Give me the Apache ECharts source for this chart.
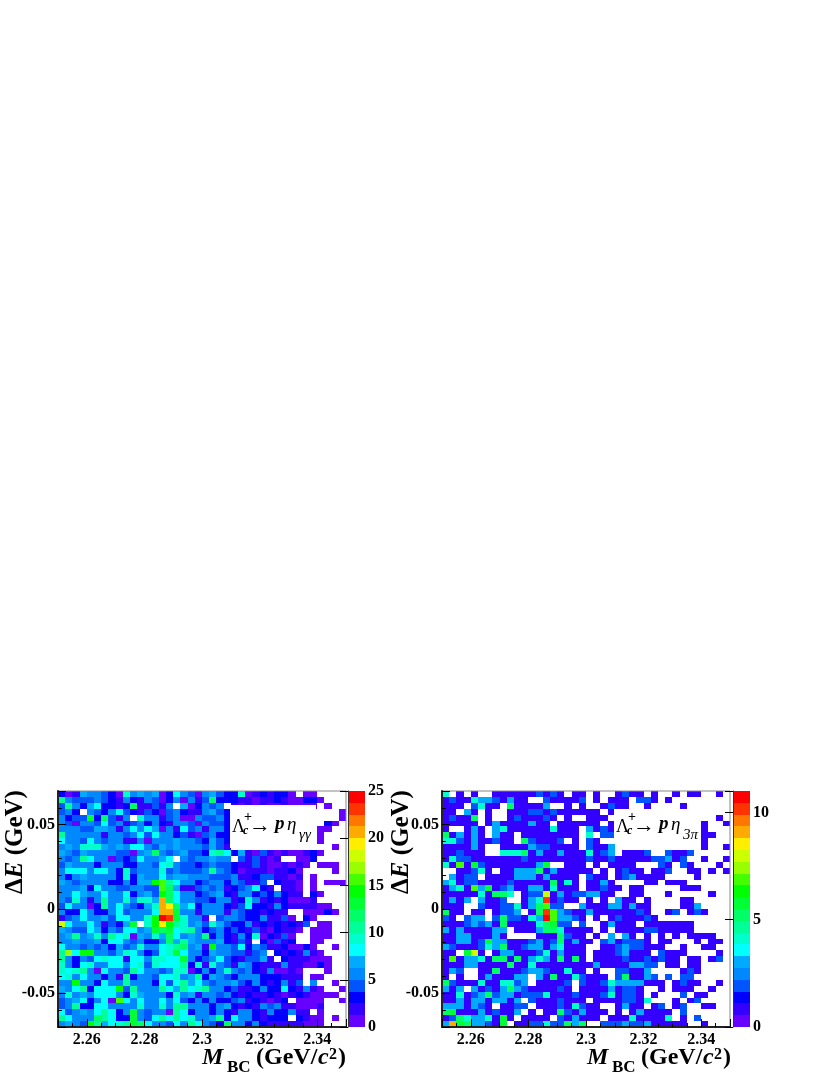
<!DOCTYPE html>
<html>
<head>
<meta charset="utf-8">
<style>
  html, body { margin: 0; padding: 0; background: #fff; }
  #main { width: 830px; height: 1075px; }
</style>
<script src="https://cdn.jsdelivr.net/npm/echarts@6/dist/echarts.min.js"></script>
</head>
<body>
<div id="main"></div>
<script>
// entries per bin, row 0 is the top of the plot (cells hidden behind the label box are left at 0)
const countsGammaGamma = [
  [3,1,2,7,5,5,4,3,1,9,5,7,5,7,1,3,8,5,4,1,5,7,4,3,3,9,1,2,3,2,3,3,1,0,1,1,0,0,0,0],
  [10,5,4,4,4,5,4,3,2,5,3,2,5,4,1,3,5,1,5,2,4,12,3,3,3,2,2,1,2,2,3,2,1,1,3,3,1,0,0,0],
  [4,10,5,3,7,8,3,3,2,3,12,2,2,4,2,5,0,7,1,3,5,4,5,0,2,1,2,1,2,1,1,2,1,1,1,1,0,1,0,0],
  [4,5,3,0,5,4,3,5,8,4,3,2,4,3,1,4,5,3,2,2,5,7,4,3,0,0,0,0,0,0,0,0,0,0,0,0,0,0,0,1],
  [5,3,4,4,13,3,12,4,2,5,0,9,5,5,2,4,5,1,1,5,4,4,5,3,0,0,0,0,0,0,0,0,0,0,0,0,0,0,0,1],
  [5,4,1,5,5,4,8,4,5,2,4,5,3,5,3,2,5,5,4,1,5,4,4,3,0,0,0,0,0,0,0,0,0,0,0,0,0,3,1,0],
  [5,5,5,4,4,7,7,5,2,5,8,5,8,7,1,5,2,8,4,5,2,5,5,3,0,0,0,0,0,0,0,0,0,0,0,0,1,1,0,0],
  [10,5,5,5,5,5,2,5,5,4,5,8,4,8,5,5,3,4,2,1,4,5,3,3,0,0,0,0,0,0,0,0,0,0,0,0,1,0,0,0],
  [8,5,5,4,8,5,4,5,5,2,2,5,1,5,5,5,7,5,5,4,3,7,4,3,0,0,0,0,0,0,0,0,0,0,0,0,1,0,0,0],
  [5,7,5,9,9,9,7,5,7,5,8,8,5,4,7,5,7,5,5,5,4,7,4,2,0,0,0,0,0,0,0,0,0,0,0,0,0,0,1,0],
  [7,5,4,7,5,5,5,5,4,4,1,5,7,12,5,4,5,7,4,4,3,9,10,8,3,7,2,1,4,2,1,2,1,1,2,3,1,0,0,0],
  [5,4,5,10,8,5,5,1,4,3,4,8,5,5,7,8,0,5,4,5,5,7,5,5,0,4,2,4,2,1,2,0,0,1,1,3,0,0,0,0],
  [4,7,5,5,5,3,5,5,5,3,3,5,5,4,8,9,5,4,4,3,4,5,4,4,3,2,2,4,2,1,1,2,1,2,1,0,1,1,1,0],
  [5,8,8,8,5,8,8,5,3,9,4,5,5,5,9,4,5,4,4,4,5,11,5,4,3,1,2,2,2,1,2,2,3,1,0,0,0,0,1,0],
  [5,3,5,7,5,5,5,5,3,9,3,7,5,5,8,5,7,7,5,5,5,4,4,4,5,2,2,3,4,4,2,2,1,2,0,1,0,0,0,0],
  [7,5,4,5,5,5,5,3,3,5,3,7,7,14,15,10,8,5,5,3,4,5,5,3,5,4,2,2,4,0,3,2,2,1,0,1,0,1,1,1],
  [5,5,5,7,3,8,5,5,4,4,5,5,4,4,15,12,7,2,2,4,5,4,5,2,3,4,5,8,3,2,0,2,2,1,0,1,0,0,0,0],
  [5,5,8,7,5,5,8,5,5,8,3,5,7,4,14,12,8,5,5,3,4,5,7,3,2,5,5,3,4,3,5,3,2,2,0,3,1,0,0,0],
  [5,4,9,5,2,5,11,5,5,9,5,9,9,7,21,12,8,5,5,4,4,3,5,5,2,3,9,5,2,3,2,3,1,1,1,2,0,0,0,0],
  [4,8,5,5,1,3,11,5,8,5,4,3,7,9,21,19,12,7,8,3,5,5,5,3,2,4,8,3,3,2,5,3,2,2,2,2,1,1,0,0],
  [5,3,3,8,5,3,3,5,8,4,5,5,5,8,21,21,13,5,5,2,5,5,5,2,5,4,3,3,2,3,2,2,0,0,1,1,1,3,1,0],
  [2,4,5,8,5,5,7,4,8,8,5,5,9,14,25,23,13,9,5,5,2,0,4,5,5,4,3,3,5,2,2,4,1,0,3,1,0,0,0,0],
  [18,8,5,5,8,5,2,4,3,7,13,0,9,14,19,14,10,9,5,7,4,9,7,4,3,3,5,2,3,2,3,2,3,2,4,0,1,1,0,0],
  [7,5,4,4,8,7,3,5,4,8,8,5,7,13,12,13,8,9,10,5,3,4,5,3,4,3,2,4,2,1,3,2,2,1,0,1,1,1,0,0],
  [5,7,10,5,7,9,5,10,8,9,1,7,5,9,7,12,8,5,7,5,10,3,5,3,2,5,3,9,1,3,2,4,1,0,0,1,1,1,0,0],
  [5,5,7,5,5,7,3,8,8,5,4,5,3,3,5,12,7,10,7,5,5,5,7,3,2,4,2,0,3,1,4,2,3,0,0,1,1,0,0,0],
  [8,5,5,4,5,4,5,3,7,4,5,9,5,5,8,9,10,12,5,7,2,14,5,5,4,8,3,5,4,2,2,3,1,1,3,1,0,0,1,0],
  [11,17,8,14,14,5,5,4,7,9,8,5,3,4,8,9,13,8,5,5,3,7,5,5,4,4,2,4,5,0,3,2,3,2,5,2,1,0,0,0],
  [10,5,3,5,4,8,9,8,8,2,8,8,5,9,9,8,8,13,5,3,4,5,8,4,3,2,4,4,7,2,0,3,2,2,2,1,1,1,0,0],
  [9,5,3,8,9,5,5,8,8,5,8,9,4,9,8,8,8,10,3,9,2,9,5,4,2,7,5,3,2,2,2,5,2,2,1,1,3,1,0,0],
  [9,8,9,10,5,1,8,5,5,4,10,8,5,5,4,5,9,9,1,3,5,3,5,9,5,4,5,3,2,5,1,1,2,1,0,0,0,1,0,0],
  [8,9,5,8,5,5,3,5,2,11,3,5,5,4,8,8,9,5,7,10,3,7,5,4,3,5,5,5,3,3,3,2,2,2,0,1,1,0,0,0],
  [5,5,14,5,5,3,8,5,5,10,5,5,5,3,8,4,8,10,7,8,5,4,5,5,7,4,3,5,3,2,3,5,2,4,0,5,0,0,1,0],
  [7,5,8,10,3,8,8,8,14,4,11,5,5,5,11,8,7,11,8,9,11,5,5,3,4,2,2,3,5,3,3,8,3,2,5,2,1,0,0,1],
  [5,9,5,7,5,8,8,8,5,3,9,7,5,5,5,3,9,5,7,2,5,5,4,5,3,2,3,2,2,3,2,1,2,3,2,1,1,1,1,0],
  [4,5,7,8,3,5,8,1,15,8,5,8,5,5,8,5,8,4,3,5,3,5,3,3,4,5,2,3,2,1,2,3,0,1,1,1,1,0,0,1],
  [4,5,11,3,3,8,8,5,5,5,5,9,5,5,9,5,10,11,5,5,5,3,5,7,3,2,3,2,5,4,5,2,2,1,1,1,2,0,0,0],
  [8,4,5,7,5,8,10,8,3,5,13,5,4,5,5,1,10,8,3,5,5,3,5,3,2,5,5,3,2,5,3,3,5,2,2,0,1,0,0,0],
  [11,8,5,5,5,12,10,8,3,3,13,5,4,8,10,8,11,8,9,5,5,7,10,3,8,5,5,3,2,3,3,3,0,3,2,1,1,0,1,0],
  [5,7,5,4,14,10,7,8,9,10,13,12,8,5,5,4,8,5,10,8,5,4,3,12,5,5,3,5,3,2,2,2,2,2,1,1,1,0,0,0]
];
const counts3Pi = [
  [4,0,1,0,1,0,0,1,1,1,1,1,1,2,1,2,1,0,1,1,0,1,0,0,1,2,1,1,0,1,0,0,1,0,1,1,0,0,1,0],
  [1,2,1,1,4,3,3,2,1,3,1,1,0,0,2,1,1,1,1,2,0,1,0,1,1,1,0,2,2,1,0,1,0,0,0,0,0,0,0,0],
  [1,1,1,0,2,4,1,1,0,5,1,1,1,1,3,0,0,1,0,1,0,0,1,2,1,1,0,0,1,0,0,0,0,1,0,0,0,0,0,0],
  [1,1,0,3,1,0,1,0,0,1,1,1,2,2,1,2,1,1,1,1,1,1,0,1,0,0,0,0,0,0,0,0,0,0,0,0,0,0,0,0],
  [1,2,1,1,5,0,1,0,0,1,2,1,1,1,2,1,0,1,0,0,1,1,1,0,0,0,0,0,0,0,0,0,0,0,0,0,0,0,1,0],
  [1,1,1,1,1,0,1,3,1,1,1,1,3,1,1,0,1,1,1,1,1,1,0,1,0,0,0,0,0,0,0,0,0,0,0,0,1,0,0,1],
  [1,0,0,1,3,1,0,3,4,1,1,1,1,1,1,4,1,1,1,0,3,1,2,1,0,0,0,0,0,0,0,0,0,0,0,0,1,0,0,0],
  [5,1,3,1,3,1,0,3,1,1,0,1,1,1,1,1,1,1,1,0,4,0,2,2,0,0,0,0,0,0,0,0,0,0,0,0,1,1,0,0],
  [4,4,2,1,3,1,1,2,1,1,0,5,2,1,1,1,2,0,1,0,2,1,0,0,0,0,0,0,0,0,0,0,0,0,0,0,1,0,0,0],
  [1,1,1,1,3,1,0,0,1,1,1,1,3,2,2,1,1,1,1,0,2,1,1,3,0,0,0,0,0,0,0,0,0,0,0,0,1,0,0,1],
  [1,1,2,1,1,1,0,0,4,4,4,5,1,3,1,1,3,1,1,1,4,1,2,3,0,1,1,1,2,0,0,2,1,1,2,0,0,0,0,0],
  [1,4,2,2,1,1,1,1,1,1,1,2,1,1,1,1,1,1,1,1,2,1,1,2,1,1,1,1,1,2,2,3,1,2,0,0,1,0,0,1],
  [4,1,7,1,6,2,1,1,1,1,1,1,1,3,6,0,0,1,1,1,0,1,0,1,1,1,1,0,0,0,2,1,0,2,1,0,0,0,1,0],
  [0,0,1,1,2,4,1,0,1,1,3,3,3,5,1,3,1,1,1,1,1,0,1,0,1,2,1,1,0,1,1,2,0,0,1,1,0,1,0,1],
  [0,3,1,2,2,0,1,1,1,1,3,3,3,1,3,1,1,1,1,0,2,1,1,0,1,2,3,1,1,1,1,0,0,0,0,1,0,0,0,0],
  [3,4,1,2,2,1,1,1,1,2,1,1,1,1,1,5,1,4,1,0,1,1,3,1,0,0,0,0,1,1,0,1,1,1,0,0,0,0,0,0],
  [1,3,4,1,7,3,6,1,2,3,1,1,3,3,1,4,1,1,1,0,1,1,2,1,1,0,1,1,0,0,0,0,0,1,1,1,0,0,0,0],
  [1,1,1,1,1,4,1,5,5,4,0,1,2,2,8,1,3,1,2,2,3,3,1,1,0,0,1,1,0,0,0,1,0,0,0,0,0,1,0,0],
  [1,3,1,3,0,3,1,1,2,0,0,1,3,4,10,1,2,1,1,0,1,0,1,0,3,1,1,0,1,0,0,0,0,1,1,0,0,0,0,0],
  [1,1,1,0,0,2,1,1,2,2,4,1,3,5,7,2,2,0,0,3,1,1,1,3,3,1,3,1,1,0,0,0,0,1,1,3,0,0,0,0],
  [5,1,1,0,1,1,0,1,2,2,3,0,1,5,10,7,3,2,1,1,3,1,1,1,1,1,1,2,1,0,0,1,2,0,1,2,1,0,0,0],
  [2,1,0,2,3,3,0,2,5,2,2,1,4,3,11,7,3,3,2,1,0,1,0,1,2,1,1,1,2,1,0,0,0,0,0,0,0,0,0,0],
  [1,1,1,2,3,2,3,1,5,1,1,1,1,4,5,6,2,2,0,2,0,0,1,3,1,1,1,0,1,1,1,1,1,1,1,0,0,0,0,0],
  [3,1,3,1,1,1,1,3,3,0,1,1,1,3,5,5,4,1,1,1,1,0,1,0,1,1,1,1,2,2,1,1,1,1,1,0,0,0,0,0],
  [1,1,3,3,1,1,1,3,1,0,0,0,0,1,1,1,5,2,1,1,0,1,0,3,0,3,1,0,1,0,1,0,1,0,1,1,1,1,0,0],
  [1,1,3,3,1,2,6,3,3,1,1,1,2,3,1,2,5,1,3,1,1,0,2,3,1,2,2,2,1,0,1,1,0,0,0,1,0,1,1,0],
  [3,2,1,1,1,2,4,3,5,1,1,2,3,3,1,3,4,1,1,1,0,0,1,1,2,3,2,2,1,1,1,0,0,1,0,0,1,1,0,0],
  [1,1,0,6,8,1,0,1,3,3,1,1,1,2,4,1,3,1,1,1,0,1,1,1,2,3,1,1,1,0,2,1,1,1,0,0,0,0,1,0],
  [1,7,1,3,3,4,1,5,5,1,5,1,3,4,3,1,5,1,5,1,0,1,1,1,1,2,1,1,2,1,2,1,1,0,1,1,0,1,2,0],
  [1,1,1,3,3,1,1,1,1,5,1,1,4,1,1,1,1,1,1,1,1,3,1,1,1,1,3,3,2,2,0,1,1,0,1,1,0,0,0,0],
  [1,3,2,0,0,1,1,5,1,1,1,2,3,3,2,1,1,4,1,1,0,1,0,0,2,2,1,1,3,0,0,0,0,1,2,1,0,0,0,0],
  [1,0,1,0,0,1,3,1,1,1,3,3,0,3,1,5,1,1,4,2,1,1,1,0,2,5,1,1,3,2,0,2,0,2,2,0,0,0,0,0],
  [5,2,1,1,1,4,1,1,4,4,2,3,0,1,1,1,1,2,0,2,1,1,2,4,3,3,3,3,1,1,1,0,1,2,1,1,0,0,1,0],
  [3,1,3,0,3,1,2,1,3,5,3,2,1,1,1,1,2,1,0,1,1,1,1,3,1,2,2,1,0,0,1,0,1,1,1,0,0,1,0,0],
  [1,1,4,1,2,3,5,2,3,3,1,2,2,2,4,1,1,1,2,1,1,1,2,4,1,2,2,1,0,1,0,0,0,2,0,1,1,0,0,0],
  [1,1,3,1,3,3,1,3,3,1,3,0,2,1,1,1,2,1,1,1,0,1,1,1,1,2,2,1,4,0,0,0,1,0,1,2,0,0,0,0],
  [3,3,3,1,3,2,1,0,1,1,2,2,0,1,1,1,2,1,4,2,1,1,0,0,1,3,1,1,0,1,2,0,1,2,0,0,1,1,0,0],
  [5,6,1,1,1,3,1,2,1,1,3,0,1,0,1,1,5,2,1,3,1,1,1,0,1,0,1,3,1,1,1,1,0,2,0,0,0,0,0,0],
  [1,2,5,4,3,3,4,1,6,1,0,1,1,1,1,0,2,1,3,1,1,1,0,1,1,1,4,1,1,1,1,4,0,1,0,2,0,0,0,0],
  [3,9,6,5,3,3,2,1,6,0,1,1,2,2,4,2,2,5,3,5,0,0,2,2,2,3,2,2,3,1,1,1,1,1,0,0,1,0,0,0]
];

const massRange = [2.25, 2.35];
const deltaERange = [-0.07, 0.07];
const binCount = 40;
const zMaxLeft = 25;
const zMaxRight = 11;

// the 20 colour steps, bottom to top of the z scale
const palette = [
  '#6600ff', '#3300ff', '#0000ff', '#0055ff', '#0088ff',
  '#00aaff', '#00ffff', '#00ffcc', '#00ff99', '#00ff66',
  '#00ff33', '#00ff00', '#44ff00', '#99ff00', '#ccff00',
  '#ffee00', '#ffaa00', '#ff7700', '#ff3300', '#ff0000'
];

const serif = '"Liberation Serif", serif';

function colorFor(v, zMax) {
  return palette[Math.min(19, Math.floor(v / zMax * 20))];
}

function buildCells(counts) {
  let out = [];
  let dx = (massRange[1] - massRange[0]) / binCount;
  let dy = (deltaERange[1] - deltaERange[0]) / binCount;
  for (let r = 0; r < counts.length; r++) {
    for (let c = 0; c < counts[r].length; c++) {
      if (counts[r][c] === 0) continue;
      out.push([
        massRange[0] + c * dx,
        deltaERange[1] - r * dy,
        massRange[0] + (c + 1) * dx,
        deltaERange[1] - (r + 1) * dy,
        counts[r][c]
      ]);
    }
  }
  return out;
}

function cellRenderer(colorOf) {
  return function (params, api) {
    let a = api.coord([api.value(0), api.value(1)]);
    let b = api.coord([api.value(2), api.value(3)]);
    let x = Math.round(a[0]), y = Math.round(a[1]);
    return {
      type: 'rect',
      shape: { x: x, y: y, width: Math.round(b[0]) - x, height: Math.round(b[1]) - y },
      style: { fill: colorOf(api.value(4)) }
    };
  };
}

function trimLabel(range) {
  return function (v) {
    if (Math.abs(v - range[0]) < 1e-6 || Math.abs(v - range[1]) < 1e-6) return '';
    return String(+v.toFixed(2));
  };
}

const labelFont = { fontFamily: serif, fontWeight: 'bold', fontSize: 16, color: '#000' };

function panelAxes(gridIndex) {
  let x = {
    type: 'value', gridIndex: gridIndex, min: massRange[0], max: massRange[1], splitNumber: 5, z: 6,
    axisLine: { show: true, onZero: false, lineStyle: { color: '#222', width: 2 } },
    axisTick: { show: true, inside: true, length: 8, lineStyle: { color: '#000', width: 1 } },
    minorTick: { show: true, splitNumber: 4, length: 4, lineStyle: { color: '#000', width: 1 } },
    axisLabel: Object.assign({ margin: 5, formatter: trimLabel(massRange), hideOverlap: false }, labelFont),
    splitLine: { show: false }
  };
  let y = {
    type: 'value', gridIndex: gridIndex, min: deltaERange[0], max: deltaERange[1], splitNumber: 3, z: 6,
    axisLine: { show: true, onZero: false, lineStyle: { color: '#222', width: 2 } },
    axisTick: { show: true, inside: true, length: 8, lineStyle: { color: '#000', width: 1 } },
    minorTick: { show: true, splitNumber: 5, length: 4, lineStyle: { color: '#000', width: 1 } },
    axisLabel: Object.assign({ margin: 3, formatter: trimLabel(deltaERange), hideOverlap: false }, labelFont),
    splitLine: { show: false }
  };
  return [x, y];
}

function barAxes(gridIndex, zMax) {
  let x = { type: 'value', gridIndex: gridIndex, min: 0, max: 1, show: false };
  let y = {
    type: 'value', gridIndex: gridIndex, min: 0, max: zMax, interval: 5, position: 'right', z: 6,
    axisLine: { show: true, lineStyle: { color: '#333', width: 1 } },
    axisTick: { show: true, inside: true, length: 8, lineStyle: { color: '#000', width: 1 } },
    axisLabel: { margin: 3, fontFamily: serif, fontWeight: 'bold', fontSize: 16, color: '#000',
      formatter: function (v) { return v === zMax && zMax % 5 ? '' : String(v); } },
    splitLine: { show: false }
  };
  return [x, y];
}

function barCells(zMax) {
  let out = [];
  for (let i = 0; i < 20; i++) {
    out.push([0, zMax * i / 20, 1, zMax * (i + 1) / 20, i]);
  }
  return out;
}

function text(x, y, str, size, opts) {
  return {
    type: 'text', x: x, y: y, z: 20,
    style: {
      text: str, fill: '#000', font: (opts && opts.style || '') + ' ' + size + 'px ' + serif,
      align: 'left', verticalAlign: 'bottom'
    }
  };
}

// decay label with its white box, dx shifts it into the second panel
function decayLabel(dx, boxTop, boxBottom, sub) {
  return [
    { type: 'rect', z: 19, shape: { x: 230 + dx, y: boxTop, width: 86, height: boxBottom - boxTop }, style: { fill: '#fff' } },
    text(232 + dx, 836, '\u039b', 18),
    text(243 + dx, 837, 'c', 12, { style: 'italic bold' }),
    text(244 + dx, 824, '+', 14, { style: 'bold' }),
    text(249 + dx, 837, '\u2192', 22),
    text(275 + dx, 834, 'p', 19, { style: 'italic bold' }),
    text(287 + dx, 834, '\u03b7', 19, { style: 'italic' }),
    text(299 + dx, 843, sub, 15, { style: 'italic' })
  ];
}

// axis titles
function massTitle(dx) {
  return [
    text(202 + dx, 1070, 'M', 24, { style: 'italic bold' }),
    text(227 + dx, 1076, 'BC', 17, { style: 'bold' }),
    text(256 + dx, 1070, '(GeV/', 24, { style: 'bold' }),
    text(318 + dx, 1070, 'c', 24, { style: 'italic bold' }),
    text(329 + dx, 1063, '2', 16, { style: 'bold' }),
    text(338 + dx, 1070, ')', 24, { style: 'bold' })
  ];
}

function deltaTitle(cx) {
  return {
    type: 'text', x: cx, y: 842, z: 20, rotation: Math.PI / 2,
    style: {
      text: '{b|\u0394}{i|E}{b| (GeV)}',
      align: 'center', verticalAlign: 'middle',
      rich: {
        b: { font: 'bold 25px ' + serif, fill: '#000' },
        i: { font: 'italic bold 25px ' + serif, fill: '#000' }
      }
    }
  };
}

const axesA = panelAxes(0), barA = barAxes(1, zMaxLeft), axesB = panelAxes(2), barB = barAxes(3, zMaxRight);

function customSeries(xi, yi, data, render) {
  return {
    type: 'custom', xAxisIndex: xi, yAxisIndex: yi, data: data, renderItem: render,
    encode: { x: [0, 2], y: [1, 3] }, silent: true, animation: false, clip: true
  };
}

const gridBox = { show: true, borderColor: '#888', borderWidth: 1, backgroundColor: 'transparent', z: 4 };

let myChart = echarts.init(document.getElementById('main'), null, { renderer: 'canvas' });
myChart.setOption({
  backgroundColor: '#fff',
  animation: false,
  grid: [
    Object.assign({ left: 58, top: 791, width: 288, height: 236 }, gridBox),
    { left: 348, top: 791, width: 17, height: 236 },
    Object.assign({ left: 442, top: 791, width: 288, height: 236 }, gridBox),
    { left: 733, top: 791, width: 17, height: 236 }
  ],
  xAxis: [axesA[0], barA[0], axesB[0], barB[0]],
  yAxis: [axesA[1], barA[1], axesB[1], barB[1]],
  series: [
    customSeries(0, 0, buildCells(countsGammaGamma), cellRenderer(function (v) { return colorFor(v, zMaxLeft); })),
    customSeries(1, 1, barCells(zMaxLeft), cellRenderer(function (i) { return palette[i]; })),
    customSeries(2, 2, buildCells(counts3Pi), cellRenderer(function (v) { return colorFor(v, zMaxRight); })),
    customSeries(3, 3, barCells(zMaxRight), cellRenderer(function (i) { return palette[i]; }))
  ],
  graphic: {
    elements: [].concat(
      decayLabel(0, 805, 848, '\u03b3\u03b3'),
      decayLabel(384, 809, 844, '3\u03c0'),
      massTitle(0),
      massTitle(385),
      [deltaTitle(16), deltaTitle(402)]
    )
  }
});
</script>
</body>
</html>
